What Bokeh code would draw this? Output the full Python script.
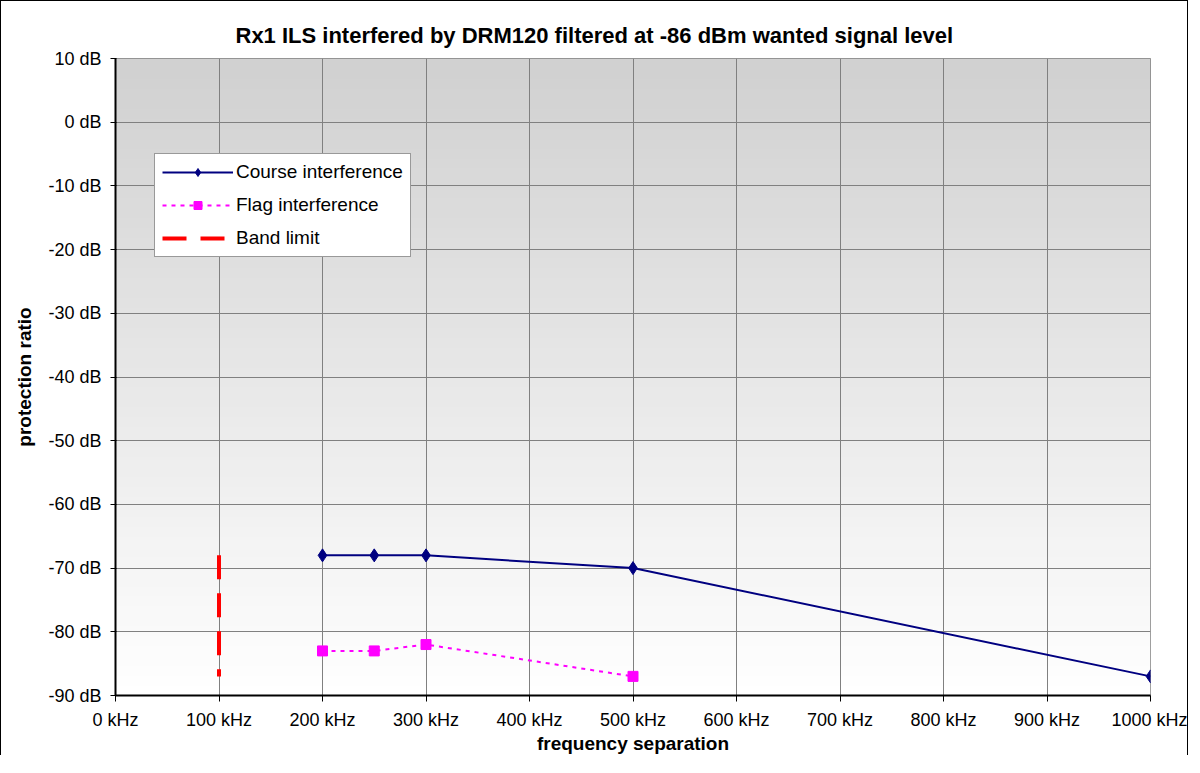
import numpy as np
from bokeh.plotting import figure
from bokeh.models import (FixedTicker, PrintfTickFormatter, Legend, LegendItem, Range1d)
from bokeh.embed import file_html
from bokeh.resources import INLINE

# ---- data ----
title_text = "Rx1 ILS interfered by DRM120 filtered at -86 dBm wanted signal level"
x_label = "frequency separation"
y_label = "protection ratio"

x_ticks = [0, 100, 200, 300, 400, 500, 600, 700, 800, 900, 1000]
y_ticks = [10, 0, -10, -20, -30, -40, -50, -60, -70, -80, -90]

course_freq = [200, 250, 300, 500, 1000]
course_ratio = [-68, -68, -68, -70, -87]

flag_freq = [200, 250, 300, 500]
flag_ratio = [-83, -83, -82, -87]

band_freq = [100, 100]
band_ratio = [-68, -87]

FONT = "Liberation Sans"

x_min, x_max = min(x_ticks), max(x_ticks)
y_min, y_max = min(y_ticks), max(y_ticks)

p = figure(width=1188, height=755, output_backend="svg", toolbar_location=None,
           x_range=Range1d(x_min, x_max), y_range=Range1d(y_min, y_max),
           min_border_left=114, min_border_right=39, min_border_top=57, min_border_bottom=60,
           background_fill_color="white", border_fill_color="white")
p.styles = {"border-left": "1px solid black", "border-top": "1px solid black",
            "border-right": "1px solid black"}

# background gradient (grey at top to white at bottom)
n = 64
vals = np.linspace(255, 209, n)
img = np.zeros((n, 1), dtype=np.uint32)
view = img.view(dtype=np.uint8).reshape((n, 1, 4))
for i, v in enumerate(vals):
    view[i, 0, 0] = int(v)
    view[i, 0, 1] = int(v)
    view[i, 0, 2] = int(v)
    view[i, 0, 3] = 255
p.image_rgba(image=[img], x=x_min, y=y_min, dw=x_max - x_min, dh=y_max - y_min, level="image")

# title
p.title.text = title_text
p.title.text_font = FONT
p.title.text_font_size = "22px"
p.title.text_font_style = "bold"
p.title.text_color = "black"
p.title.align = "left"
p.title.offset = 120
p.title.standoff = 22

# grid
p.xgrid.ticker = FixedTicker(ticks=x_ticks)
p.ygrid.ticker = FixedTicker(ticks=y_ticks)
p.grid.grid_line_color = "#808080"
p.grid.grid_line_width = 1
p.outline_line_color = "#808080"

# axes
for ax in (p.xaxis[0], p.yaxis[0]):
    ax.axis_line_color = "black"
    ax.axis_line_width = 2
    ax.major_tick_line_color = "black"
    ax.major_tick_line_width = 1
    ax.minor_tick_line_color = None
    ax.major_label_text_font = FONT
    ax.major_label_text_font_size = "18px"
    ax.major_label_text_color = "black"
    ax.axis_label_text_font = FONT
    ax.axis_label_text_font_size = "19px"
    ax.axis_label_text_font_style = "bold"
    ax.axis_label_text_color = "black"

p.xaxis.ticker = FixedTicker(ticks=x_ticks)
p.xaxis.formatter = PrintfTickFormatter(format="%d kHz")
p.xaxis.axis_label = x_label
p.xaxis.major_tick_out = 6
p.xaxis.major_tick_in = 0
p.xaxis.major_label_standoff = 8
p.xaxis.axis_label_standoff = 0

p.yaxis.ticker = FixedTicker(ticks=y_ticks)
p.yaxis.formatter = PrintfTickFormatter(format="%d dB")
p.yaxis.axis_label = y_label
p.yaxis.major_tick_out = 5
p.yaxis.major_tick_in = 1
p.yaxis.major_label_standoff = 9
p.yaxis.axis_label_standoff = 10

# series
course_line = p.line(course_freq, course_ratio, line_color="#000080", line_width=2)
course_pts = p.scatter(course_freq, course_ratio, marker="diamond", size=13,
                       fill_color="#000080", line_color="#000080")
flag_line = p.line(flag_freq, flag_ratio, line_color="#FF00FF", line_width=2, line_dash="4 5")
flag_pts = p.scatter(flag_freq, flag_ratio, marker="square", size=10,
                     fill_color="#FF00FF", line_color="#FF00FF")
band_line = p.line(band_freq, band_ratio, line_color="#FF0000", line_width=4, line_dash="24 14")

legend = Legend(items=[
    LegendItem(label="Course interference", renderers=[course_line, course_pts]),
    LegendItem(label="Flag interference", renderers=[flag_line, flag_pts]),
    LegendItem(label="Band limit", renderers=[band_line]),
], location=(39, 438))
legend.margin = 0
legend.padding = 7
legend.spacing = 11
legend.glyph_width = 71
legend.glyph_height = 20
legend.label_height = 20
legend.label_standoff = 3
legend.label_text_font = FONT
legend.label_text_font_size = "19px"
legend.label_text_color = "black"
legend.border_line_color = "#333333"
legend.border_line_width = 1
legend.background_fill_color = "white"
legend.background_fill_alpha = 1
p.add_layout(legend, "center")

open("out.html", "w").write(file_html(p, INLINE))
